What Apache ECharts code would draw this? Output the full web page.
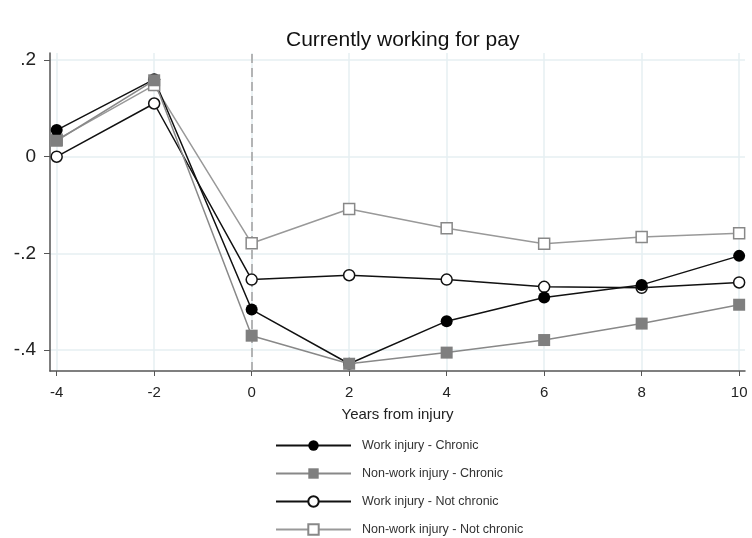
<!DOCTYPE html>
<html>
<head>
<meta charset="utf-8">
<script src="https://cdn.jsdelivr.net/npm/echarts@6/dist/echarts.min.js"></script>
<style>
  html, body { margin: 0; padding: 0; background: #fff; }
  #chart { width: 752px; height: 538px; }
</style>
</head>
<body>
<div id="chart"></div>
<script>
// years relative to injury
const years = [-4, -2, 0, 2, 4, 6, 8, 10]
const xTicks = [-4, -2, 0, 2, 4, 6, 8, 10]
const yTicks = [-0.4, -0.2, 0, 0.2]

const workChronic = [0.055, 0.16, -0.316, -0.428, -0.34, -0.291, -0.265, -0.205]
const nonWorkChronic = [0.033, 0.158, -0.37, -0.428, -0.405, -0.379, -0.345, -0.306]
const workNotChronic = [0.0, 0.11, -0.254, -0.245, -0.254, -0.269, -0.271, -0.26]
const nonWorkNotChronic = [0.035, 0.148, -0.179, -0.108, -0.148, -0.18, -0.166, -0.158]

const legendNames = [
    "Work injury - Chronic",
    "Non-work injury - Chronic",
    "Work injury - Not chronic",
    "Non-work injury - Not chronic"
]

const pairs = vals => years.map((x, i) => [x, vals[i]])

const font = "Liberation Sans, Arial, sans-serif"

let chart = echarts.init(document.getElementById("chart"))

function makeSeries(name, vals, lineColor, symbol, size, fill, border){
    return {
        name: name,
        type: "line",
        data: pairs(vals),
        symbol: symbol,
        symbolSize: size,
        lineStyle: {color: lineColor, width: 1.5},
        itemStyle: {color: fill, borderColor: border, borderWidth: fill === "#fff" ? 1.5 : 0},
        emphasis: {disabled: true},
        animation: false
    }
}

// drawing order: later ones sit on top
let series = [
    makeSeries(legendNames[3], nonWorkNotChronic, "#999", "rect", 11, "#fff", "#888"),
    makeSeries(legendNames[2], workNotChronic, "#111", "circle", 11, "#fff", "#111"),
    makeSeries(legendNames[0], workChronic, "#111", "circle", 12, "#000", "#000"),
    makeSeries(legendNames[1], nonWorkChronic, "#888", "rect", 12, "#7f7f7f", "#7f7f7f")
]

// dashed reference line at year 0, kept behind the markers
series[0].markLine = {
    silent: true,
    z: 1,
    symbol: "none",
    label: {show: false},
    lineStyle: {color: "#a0a0a0", type: [9, 5], width: 1.5},
    data: [{xAxis: 0}]
}

chart.setOption({
    backgroundColor: "#fff",
    title: {
        text: "Currently working for pay",
        left: 281,
        top: 25,
        textStyle: {fontFamily: font, fontSize: 21, fontWeight: "normal", color: "#111"}
    },
    grid: {left: 50, right: 7, top: 53, bottom: 167},
    xAxis: {
        type: "value",
        min: -4.137,
        max: 10.12,
        name: "Years from injury",
        nameLocation: "middle",
        nameGap: 36,
        nameTextStyle: {fontFamily: font, fontSize: 15, color: "#222"},
        axisLine: {onZero: false, lineStyle: {color: "#555", width: 1.5}},
        axisTick: {length: 5, lineStyle: {color: "#555"}, customValues: xTicks},
        axisLabel: {fontFamily: font, fontSize: 15, color: "#222", margin: 14, customValues: xTicks},
        splitLine: {show: true, lineStyle: {color: "#e6eff2", width: 1.5}}
    },
    yAxis: {
        type: "value",
        min: -0.443,
        max: 0.2144,
        axisLine: {show: true, onZero: false, lineStyle: {color: "#555", width: 1.5}},
        axisTick: {show: true, length: 6, lineStyle: {color: "#555"}, customValues: yTicks},
        axisLabel: {
            fontFamily: font, fontSize: 19, color: "#222", margin: 14,
            customValues: yTicks,
            formatter: v => v === 0 ? "0" : String(v).replace("0.", ".")
        },
        splitLine: {show: true, lineStyle: {color: "#e6eff2", width: 1.5}}
    },
    legend: {
        orient: "vertical",
        left: 275,
        top: 439,
        padding: 0,
        itemWidth: 75,
        itemHeight: 13,
        itemGap: 15,
        textStyle: {fontFamily: font, fontSize: 12.5, color: "#333", padding: [0, 0, 0, 6]},
        data: legendNames
    },
    series: series
})
</script>
</body>
</html>
